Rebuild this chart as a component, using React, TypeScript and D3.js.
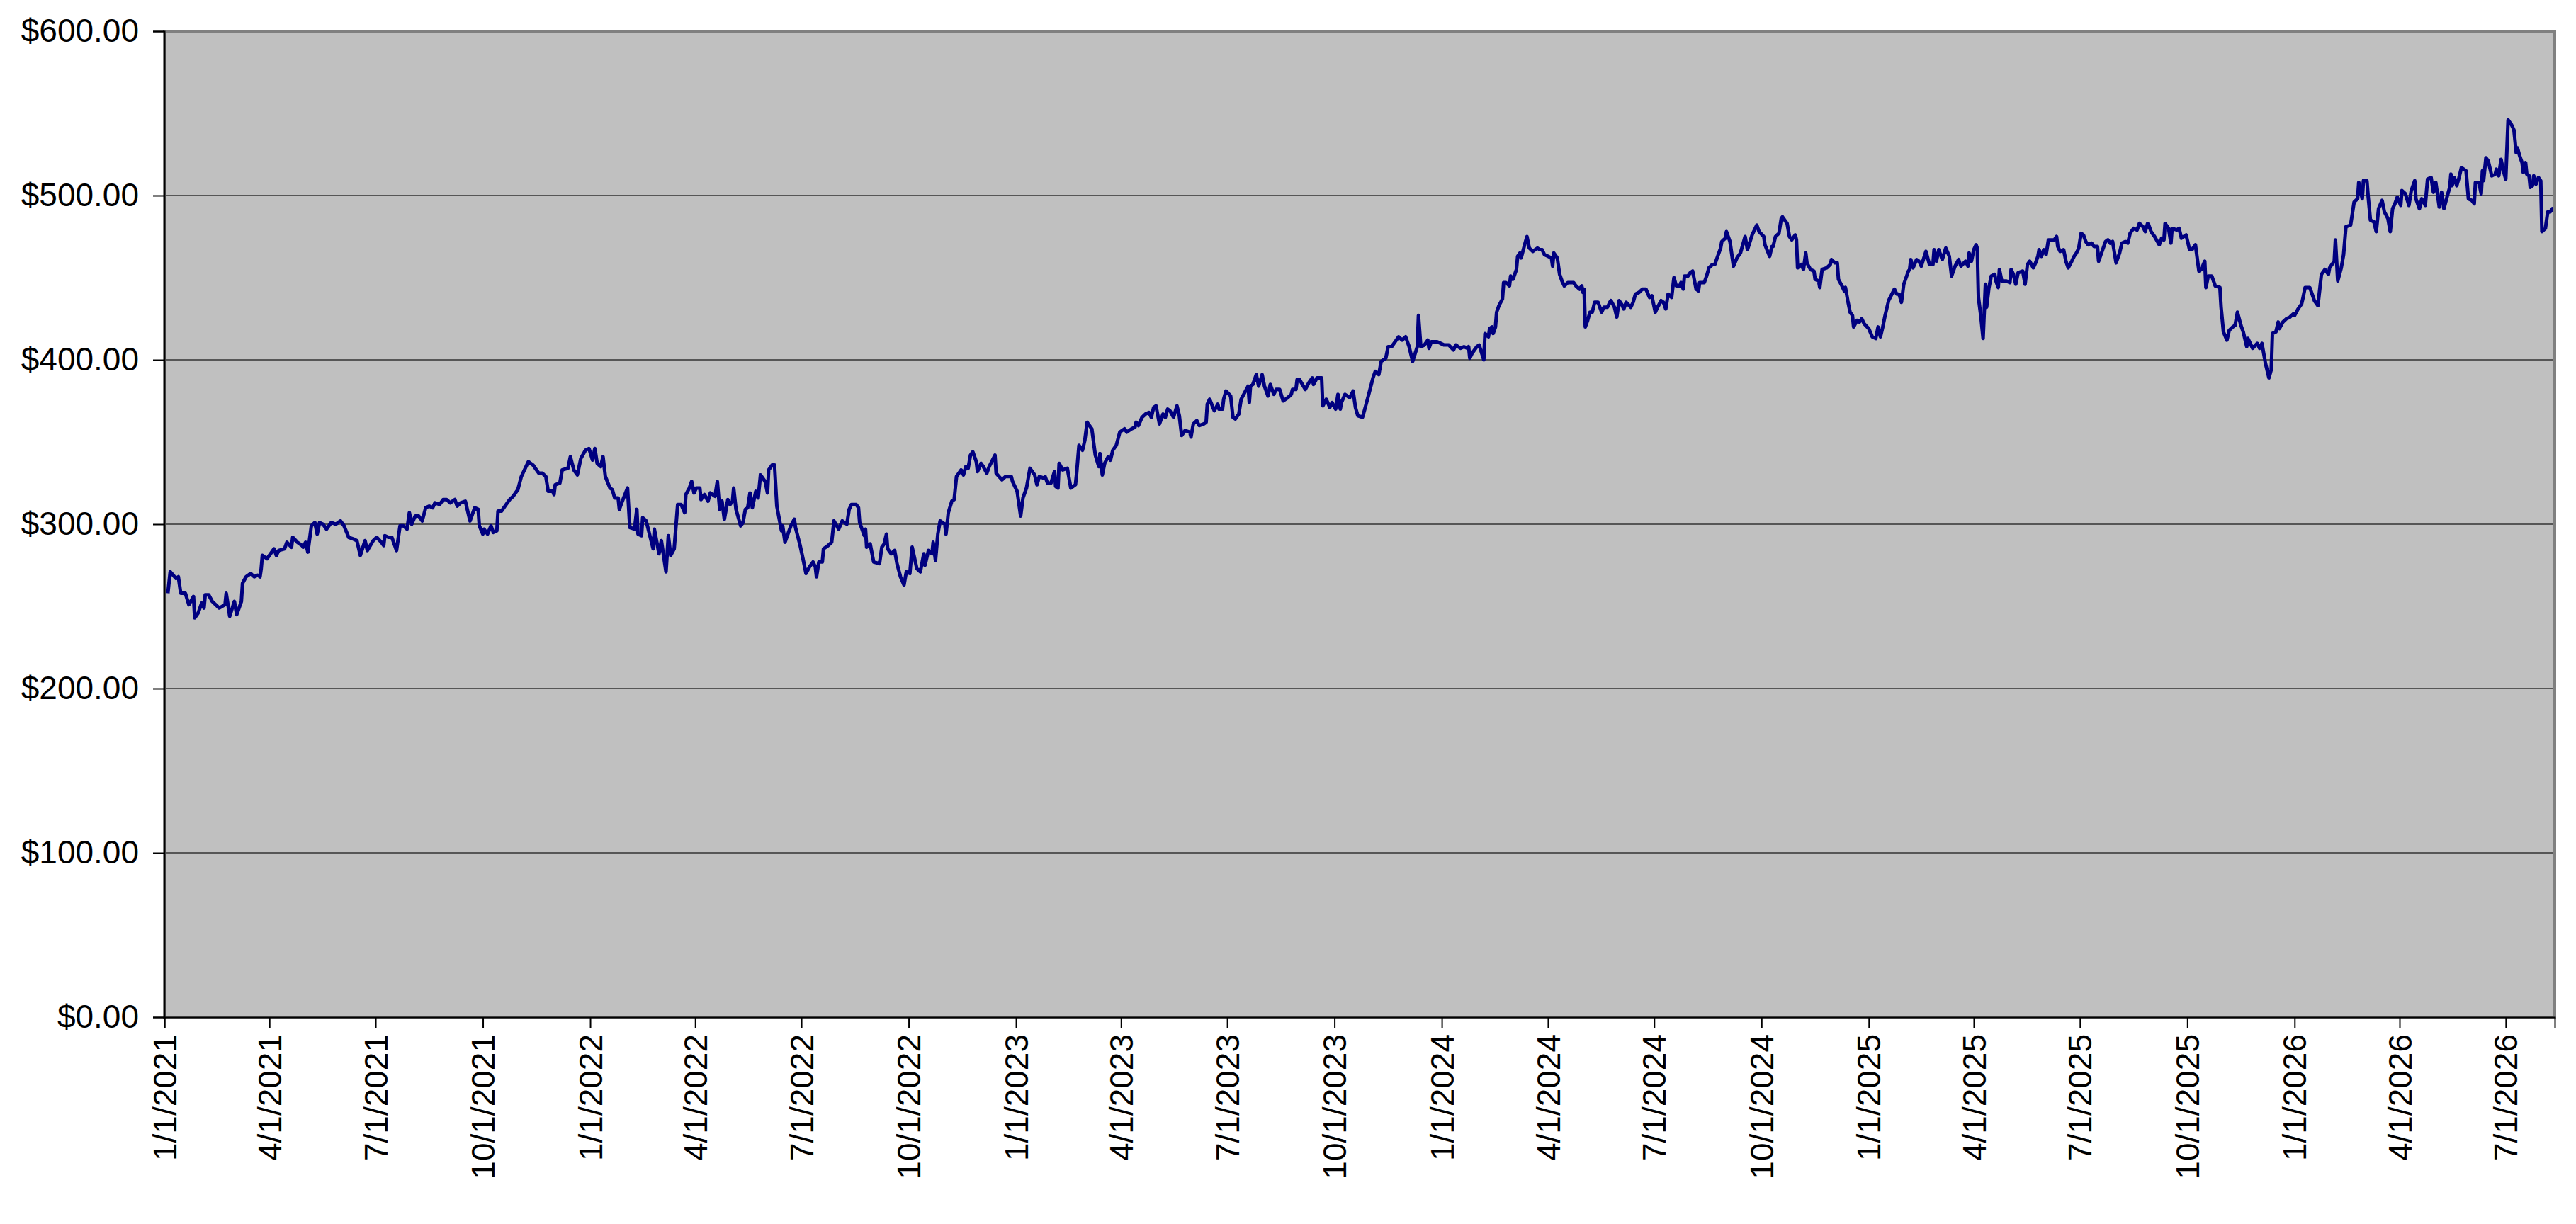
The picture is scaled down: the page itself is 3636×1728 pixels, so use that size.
import { useEffect, useRef } from "react";
import * as d3 from "d3";

const width = 3636;
const height = 1728;
const margin = { top: 44, right: 30, bottom: 292, left: 232 };

// [day of year, price] pairs, one list per year
const prices2021: [number, number][] = [
    [3,258],[5,271],[10,267],[12,268],[14,258],[18,258],[21,251],[25,256],[26,243],[29,246],[32,252],[34,249],[35,257],[38,257],[41,253],[47,249],[52,251],[53,258],[56,244],[60,253],[62,245],[66,253],[67,264],[70,268],[74,270],[77,268],[80,269],[82,268],[83,273],[84,281],[88,279],[94,285],[96,281],[98,284],[103,285],[105,289],[109,286],[110,292],[114,289],[118,287],[119,286],[121,289],[123,283],[126,299],[129,301],[131,294],[133,301],[136,300],[139,297],[143,301],[147,300],[151,302],[154,299],[158,292],[162,291],[165,290],[168,281],[172,290],[174,284],[179,290],[182,292],[186,289],[188,287],[189,293],[192,292],[195,292],[199,284],[202,299],[205,299],[208,297],[210,307],[212,300],[215,305],[218,305],[221,302],[224,310],[227,311],[230,310],[232,313],[236,312],[239,315],[242,315],[245,313],[249,315],[251,311],[254,313],[258,314],[262,302],[266,310],[269,309],[270,299],[273,294],[274,297],[277,294],[280,299],[282,295],[285,296],[286,308],[289,308],[293,312],[296,315],[299,317],[303,321],[306,329],[310,335],[312,338],[316,336],[321,331],[324,331],[327,329],[329,320],[333,320],[334,318],[335,324],[339,325],[341,333],[346,334],[348,341],[351,333],[354,330],[357,340],[361,345],[364,346],
];
const prices2022: [number, number][] = [
    [2,339],[4,346],[6,337],[9,335],[11,341],[13,329],[17,322],[19,321],[21,316],[24,316],[25,309],[27,313],[32,322],[34,298],[38,297],[40,309],[41,294],[44,293],[45,304],[48,302],[54,285],[55,297],[59,282],[61,290],[65,271],[67,293],[69,281],[72,285],[75,312],[78,312],[81,307],[82,318],[85,322],[87,326],[89,319],[91,322],[94,322],[95,315],[98,318],[101,314],[103,319],[107,317],[109,326],[111,309],[113,314],[115,303],[118,315],[120,312],[122,314],[123,322],[125,309],[129,299],[131,301],[133,309],[135,310],[137,319],[139,310],[142,320],[144,316],[146,330],[150,326],[152,319],[153,333],[156,336],[158,336],[160,311],[164,296],[165,299],[167,289],[172,299],[175,303],[176,298],[180,287],[183,277],[185,270],[188,274],[191,277],[193,274],[194,268],[196,277],[199,277],[200,285],[202,286],[204,287],[207,289],[209,302],[213,297],[216,302],[220,300],[222,309],[224,312],[228,312],[230,310],[231,301],[235,293],[236,297],[237,286],[240,288],[243,277],[248,276],[250,286],[252,288],[254,294],[255,285],[258,282],[261,284],[263,276],[266,268],[269,263],[271,271],[274,270],[276,286],[280,273],[283,271],[286,282],[287,275],[290,284],[293,282],[294,289],[296,278],[298,294],[300,302],[304,300],[305,294],[307,307],[310,314],[312,315],[314,329],[318,333],[320,330],[322,335],[324,334],[326,342],[328,344],[331,338],[332,332],[335,337],[337,335],[340,331],[342,335],[347,342],[348,331],[353,327],[356,329],[361,329],[362,326],
];
const prices2023: [number, number][] = [
    [1,320],[4,305],[6,316],[9,322],[11,330],[12,334],[16,330],[18,324],[20,329],[24,328],[25,329],[27,325],[30,325],[33,332],[34,323],[36,322],[37,337],[40,333],[44,334],[47,322],[51,324],[52,331],[54,348],[57,345],[59,351],[61,362],[65,358],[68,342],[71,335],[72,343],[74,330],[76,337],[79,341],[81,339],[83,345],[86,348],[89,356],[93,358],[95,356],[99,358],[102,359],[103,362],[105,360],[108,365],[111,367],[114,368],[116,365],[118,371],[120,372],[123,361],[126,367],[128,365],[130,370],[132,369],[135,365],[138,372],[140,366],[142,354],[145,357],[149,356],[150,353],[152,361],[155,363],[157,360],[161,361],[163,362],[164,373],[166,376],[170,369],[173,373],[174,370],[177,370],[178,376],[180,381],[184,378],[186,365],[188,364],[191,367],[193,376],[196,380],[199,384],[200,374],[201,384],[203,385],[206,391],[208,384],[211,391],[213,384],[216,378],[218,385],[221,379],[223,382],[226,382],[229,375],[233,377],[236,379],[237,382],[240,382],[241,388],[243,388],[248,382],[251,386],[254,389],[255,385],[258,389],[262,389],[263,372],[266,376],[269,371],[271,374],[274,370],[276,379],[278,370],[279,374],[282,379],[286,377],[289,381],[291,371],[293,366],[297,365],[299,370],[302,378],[306,389],[308,393],[311,391],[313,399],[317,401],[319,408],[322,408],[326,412],[328,414],[331,412],[334,414],[337,408],[340,399],[344,408],[345,427],[347,408],[350,409],[353,412],[354,407],[356,411],[361,411],
];
const prices2024: [number, number][] = [
    [2,409],[6,409],[10,406],[12,409],[16,407],[19,408],[22,407],[23,408],[24,401],[26,404],[30,408],[32,409],[36,400],[37,416],[40,414],[41,419],[43,420],[44,416],[46,420],[47,429],[49,433],[52,437],[53,447],[55,447],[58,445],[59,451],[61,449],[64,455],[65,463],[67,465],[68,462],[71,470],[73,475],[75,468],[78,466],[80,467],[82,468],[84,467],[86,467],[88,464],[91,463],[94,462],[95,457],[96,465],[99,462],[101,452],[103,448],[105,445],[108,447],[110,447],[113,447],[115,445],[118,443],[120,445],[121,441],[122,443],[123,420],[125,424],[127,429],[129,429],[131,435],[134,435],[137,429],[139,432],[142,432],[144,435],[145,436],[148,432],[150,426],[152,436],[154,434],[156,431],[158,435],[162,432],[164,435],[166,440],[169,441],[172,443],[175,443],[178,438],[180,439],[183,429],[185,432],[188,436],[190,435],[192,431],[194,440],[197,438],[199,450],[201,445],[204,445],[205,447],[207,443],[208,451],[211,451],[213,453],[215,454],[218,443],[220,442],[221,447],[225,447],[227,451],[229,456],[232,458],[234,458],[236,462],[239,468],[240,472],[243,474],[244,478],[247,472],[250,457],[253,462],[256,465],[260,475],[262,467],[266,476],[268,479],[270,482],[272,478],[276,475],[277,470],[281,463],[283,469],[284,469],[286,475],[289,477],[291,486],[292,487],[296,483],[298,475],[300,473],[303,476],[304,473],[305,456],[308,458],[310,455],[312,465],[313,459],[316,455],[319,454],[320,449],[323,448],[324,444],[326,455],[330,456],[333,458],[334,461],[337,459],[339,459],[340,449],[343,445],[345,442],[346,444],[348,436],[350,429],[352,427],[353,420],[356,424],[358,423],[360,425],[362,422],
];
const prices2025: [number, number][] = [
    [0,419],[3,414],[6,413],[8,420],[10,414],[12,420],[14,427],[17,436],[22,443],[24,440],[26,440],[28,435],[30,446],[34,454],[35,455],[36,461],[38,456],[41,461],[43,460],[45,457],[49,466],[52,458],[55,458],[56,467],[58,460],[60,467],[63,461],[66,468],[69,463],[71,451],[74,457],[77,461],[79,457],[83,460],[85,457],[86,465],[88,460],[90,467],[92,470],[93,468],[94,438],[96,427],[98,413],[100,446],[101,432],[103,444],[105,451],[108,452],[109,448],[111,444],[112,455],[114,448],[118,448],[121,447],[122,455],[124,452],[126,446],[128,453],[132,454],[134,446],[136,458],[138,460],[141,456],[143,459],[145,463],[146,467],[148,463],[150,467],[152,464],[154,473],[156,473],[159,473],[161,475],[162,469],[164,466],[167,467],[169,460],[171,456],[174,460],[176,463],[178,465],[180,468],[182,477],[184,476],[186,472],[188,470],[191,471],[193,469],[196,469],[197,460],[199,464],[203,472],[205,473],[207,471],[209,472],[212,459],[215,465],[217,471],[220,472],[222,471],[224,477],[227,480],[230,479],[232,483],[235,481],[237,478],[239,483],[240,482],[242,478],[245,475],[249,470],[251,474],[253,473],[254,483],[257,480],[259,471],[260,480],[264,479],[266,480],[268,474],[270,475],[272,476],[275,467],[277,467],[280,470],[283,454],[285,455],[288,460],[289,444],[291,451],[294,451],[297,445],[301,444],[302,432],[304,417],[307,412],[309,418],[312,420],[314,421],[316,429],[319,421],[321,417],[324,408],[325,413],[329,407],[333,410],[335,407],[337,410],[340,398],[343,389],[345,394],[346,416],[349,417],[351,423],[352,419],[355,423],[358,425],[361,426],[364,428],
];
const prices2026: [number, number][] = [
    [0,427],[3,431],[6,434],[7,437],[9,444],[13,444],[15,440],[17,436],[20,433],[23,452],[26,455],[29,452],[30,456],[34,460],[35,473],[37,448],[40,456],[42,464],[44,481],[48,482],[51,496],[54,498],[55,508],[58,498],[59,509],[62,509],[63,500],[65,485],[68,484],[70,478],[72,492],[75,497],[77,490],[80,486],[82,478],[84,492],[86,495],[88,499],[91,494],[92,503],[95,501],[98,494],[100,503],[103,509],[104,498],[107,492],[109,498],[112,494],[114,510],[117,511],[119,502],[121,508],[124,493],[126,502],[128,492],[131,500],[133,505],[134,513],[135,506],[137,511],[139,506],[141,511],[143,517],[147,515],[149,498],[152,497],[154,495],[155,508],[158,508],[160,501],[161,515],[162,509],[164,523],[166,521],[169,512],[172,513],[173,516],[175,512],[177,522],[179,515],[181,510],[183,546],[186,543],[188,540],[190,526],[191,529],[193,524],[195,520],[196,514],[198,520],[199,513],[201,512],[202,505],[204,506],[205,512],[207,507],[209,511],[211,509],[212,478],[215,480],[217,490],[219,490],[221,492],[223,490],
];

const years = [2021, 2022, 2023, 2024, 2025, 2026];
const pricesByYear = [prices2021, prices2022, prices2023, prices2024, prices2025, prices2026];

const yTicks = [0, 100, 200, 300, 400, 500, 600];
const startDate = new Date(2021, 0, 1);
const endDate = new Date(2026, 7, 12);

export default function App() {
    const ref = useRef<SVGSVGElement>(null);

    useEffect(() => {
        const svg = d3.select(ref.current);
        svg.selectAll("*").remove();

        const points = years.flatMap((year, i) =>
            pricesByYear[i].map(([day, value]) => ({
                date: d3.timeDay.offset(new Date(year, 0, 1), day),
                value,
            }))
        );

        const x = d3.scaleTime()
            .domain([startDate, endDate])
            .range([margin.left, width - margin.right]);
        const y = d3.scaleLinear()
            .domain([0, 600])
            .range([height - margin.bottom, margin.top]);

        const plotW = width - margin.left - margin.right;
        const plotH = height - margin.top - margin.bottom;

        // plot area
        svg.append("rect")
            .attr("x", margin.left)
            .attr("y", margin.top)
            .attr("width", plotW)
            .attr("height", plotH)
            .attr("fill", "#c0c0c0");

        // gridlines
        svg.append("g")
            .selectAll("line")
            .data(yTicks.filter(t => t > 0 && t < 600))
            .enter().append("line")
                .attr("x1", margin.left)
                .attr("x2", width - margin.right)
                .attr("y1", d => y(d))
                .attr("y2", d => y(d))
                .attr("stroke", "#333")
                .attr("stroke-width", 1.5);

        // price line
        const line = d3.line<{ date: Date, value: number }>()
            .x(d => x(d.date))
            .y(d => y(d.value));

        svg.append("path")
            .datum(points)
            .attr("d", line)
            .attr("fill", "none")
            .attr("stroke", "#000080")
            .attr("stroke-width", 5)
            .attr("stroke-linejoin", "round");

        // plot border
        svg.append("rect")
            .attr("x", margin.left)
            .attr("y", margin.top)
            .attr("width", plotW)
            .attr("height", plotH)
            .attr("fill", "none")
            .attr("stroke", "#808080")
            .attr("stroke-width", 4);

        const font = "'Liberation Sans', Arial, sans-serif";

        // y axis
        const yAxis = svg.append("g")
            .attr("transform", `translate(${margin.left},0)`)
            .call(d3.axisLeft(y)
                .tickValues(yTicks)
                .tickSize(16)
                .tickPadding(20)
                .tickFormat(d => d3.format("$,.2f")(d as number)));
        yAxis.select(".domain").attr("stroke", "#000").attr("stroke-width", 2);
        yAxis.selectAll(".tick line").attr("stroke", "#000").attr("stroke-width", 2);
        yAxis.selectAll(".tick text")
            .attr("font-family", font)
            .attr("font-size", 46)
            .attr("fill", "#000");

        // x axis
        const xAxis = svg.append("g")
            .attr("transform", `translate(0,${height - margin.bottom})`)
            .call(d3.axisBottom(x)
                .ticks(d3.timeMonth.every(3))
                .tickSize(16)
                .tickFormat(d => d3.timeFormat("%-m/%-d/%Y")(d as Date)));
        xAxis.select(".domain").attr("stroke", "#000").attr("stroke-width", 2);
        xAxis.selectAll(".tick line").attr("stroke", "#000").attr("stroke-width", 2);
        xAxis.selectAll(".tick text")
            .attr("font-family", font)
            .attr("font-size", 46)
            .attr("fill", "#000")
            .attr("text-anchor", "end")
            .attr("transform", "rotate(-90)")
            .attr("x", -24)
            .attr("y", 0)
            .attr("dy", "0.35em");
    }, [ref]);

    return (
        <svg
            ref={ref}
            width={width}
            height={height}
            style={{ position: "absolute", left: 0, top: 0, background: "#fff" }}
        />
    );
}
